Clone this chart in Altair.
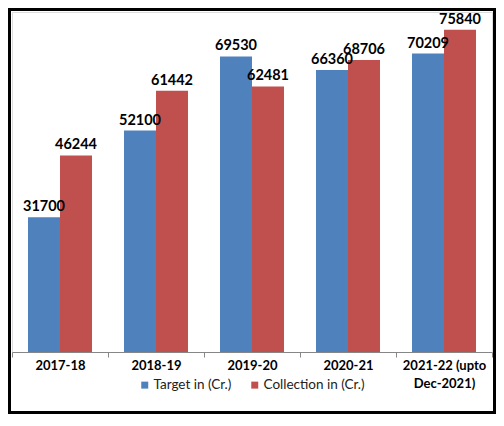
import altair as alt
import pandas as pd

years = ["2017-18", "2018-19", "2019-20", "2020-21", "2021-22 (upto|Dec-2021)"]
target = [31700, 52100, 69530, 66360, 70209]
collection = [46244, 61442, 62481, 68706, 75840]
series = ["Target in (Cr.)", "Collection in (Cr.)"]
colors = ["#4F81BD", "#C0504D"]

rows = []
for i, y in enumerate(years):
    rows.append({"year": y, "series": series[0], "value": target[i]})
    rows.append({"year": y, "series": series[1], "value": collection[i]})
df = pd.DataFrame(rows)

x = alt.X("year:N", sort=years, title=None,
          scale=alt.Scale(paddingInner=0, paddingOuter=0),
          axis=alt.Axis(labelExpr="split(datum.label, '|')", labelAngle=0,
                        labelFont="Lato", labelFontWeight="bold", labelFontSize=13,
                        labelColor="black", labelLineHeight=18, labelPadding=2,
                        tickBand="extent", tickSize=5, tickColor="#868686",
                        domainColor="#868686", labelBaseline="top"))
xo = alt.XOffset("series:N", sort=series,
                 scale=alt.Scale(paddingOuter=0.5, paddingInner=0))
y = alt.Y("value:Q", scale=alt.Scale(domain=[0, 80000], nice=False), axis=None)

base = alt.Chart(df)
bars = base.mark_bar(strokeWidth=0).encode(
    x=x, xOffset=xo, y=y,
    color=alt.Color("series:N", sort=series,
                    scale=alt.Scale(domain=series, range=colors),
                    legend=alt.Legend(title=None, orient="none", direction="horizontal",
                                      legendX=126, legendY=366,
                                      symbolType="square", symbolSize=49,
                                      symbolStrokeWidth=0, labelFont="Lato",
                                      labelFontSize=13.5, labelColor="#222",
                                      labelOffset=2, columnPadding=16, padding=0)),
)
labels = base.mark_text(font="Lato", fontWeight="bold", fontSize=14.5,
                        baseline="bottom", dy=-3, color="black").encode(
    x=x, xOffset=xo, y=y, text=alt.Text("value:Q", format="d"))

frame = alt.Chart(df).mark_rect(fill=None, stroke="black", strokeWidth=6).encode(
    x=alt.value(-4), x2=alt.value(484), y=alt.value(-4), y2=alt.value(402))

chart = alt.layer(bars, labels, frame).properties(
    width=480, height=340,
    padding={"left": 4, "top": 4, "right": 4, "bottom": 62},
    autosize=alt.AutoSizeParams(type="none"),
).configure_view(stroke=None).configure(background="white")

chart.save("out.html", embed_options={"renderer": "svg", "actions": False})
